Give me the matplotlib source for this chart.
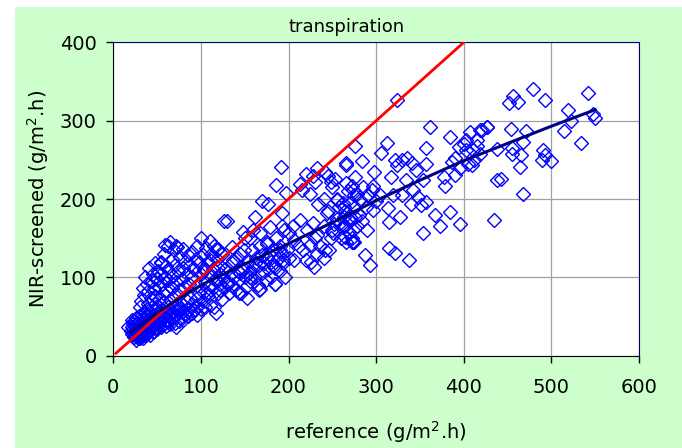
import matplotlib
matplotlib.use("Agg")
import matplotlib.pyplot as plt
from matplotlib.patches import Rectangle

# blue diamonds: (reference, NIR-screened)
core_pts = [
    (20, 32), (21, 36), (22, 30), (22, 40), (23, 34), (24, 28), (24, 44), (25, 38), (25, 31), (26, 25),
    (26, 48), (27, 35), (27, 42), (28, 30), (28, 22), (29, 38), (29, 50), (30, 27), (30, 33), (30, 45),
    (31, 40), (32, 24), (32, 36), (33, 52), (33, 30), (34, 42), (34, 28), (35, 47), (35, 35), (36, 55),
    (36, 26), (37, 40), (37, 32), (38, 60), (38, 45), (39, 36), (40, 30), (40, 50), (41, 42), (42, 56),
    (42, 34), (43, 38), (44, 62), (44, 46), (45, 30), (45, 52), (46, 40), (47, 58), (48, 35), (48, 66),
    (49, 48), (50, 42), (50, 55), (51, 38), (52, 62), (53, 47), (54, 52), (55, 44), (56, 58), (57, 40),
    (58, 68), (59, 50), (60, 46), (61, 56), (62, 62), (63, 52), (64, 44), (65, 60), (66, 70), (67, 55),
    (68, 48), (70, 62), (71, 58), (72, 52), (73, 66), (75, 60), (76, 48), (78, 56), (80, 64), (82, 52),
    (84, 70), (86, 60), (88, 74), (90, 66), (92, 58), (94, 72), (96, 62), (98, 80),
    (24, 24), (26, 20), (28, 26), (30, 22), (34, 22), (38, 28), (42, 26), (46, 32), (50, 34), (55, 36),
    (60, 38), (65, 40), (70, 42), (72, 37), (75, 44), (80, 46), (85, 50), (90, 55), (95, 52), (100, 60),
    (105, 62), (110, 65), (21, 45), (17, 37), (21, 28), (29, 32), (37, 41), (44, 50), (52, 54), (63, 45),
]
upper_pts = [
    (30, 62), (32, 70), (34, 86), (35, 78), (36, 100), (38, 92), (40, 66), (40, 82), (41, 112), (43, 74),
    (44, 95), (45, 104), (46, 86), (48, 118), (48, 76), (50, 98), (51, 108), (52, 88), (52, 72), (54, 120),
    (55, 104), (56, 92), (57, 80), (58, 130), (59, 100), (60, 114), (60, 84), (62, 96), (63, 140), (64, 108),
    (65, 145), (66, 88), (67, 124), (68, 102), (69, 135), (70, 78), (70, 116), (72, 94), (72, 140), (74, 108),
    (75, 84), (76, 126), (78, 98), (79, 112), (80, 136), (81, 88), (82, 120), (84, 104), (85, 128), (86, 92),
    (88, 116), (90, 100), (90, 132), (92, 110), (94, 124), (95, 90), (96, 140), (98, 118), (100, 104), (100, 150),
    (102, 128), (104, 112), (105, 94), (106, 138), (108, 120), (110, 146), (110, 102), (112, 130), (114, 110), (115, 140),
    (116, 98), (118, 124), (120, 136), (120, 112), (122, 104), (124, 130), (59, 141), (73, 139), (55, 118), (67, 86),
]
mid_pts = [
    (102, 70), (105, 82), (108, 76), (110, 90), (112, 84), (115, 62), (117, 54), (118, 96), (120, 80), (122, 92),
    (124, 72), (125, 100), (126, 86), (128, 110), (130, 94), (130, 172), (132, 80), (134, 104), (135, 118), (136, 90),
    (138, 100), (140, 84), (140, 124), (142, 108), (144, 96), (145, 130), (146, 80), (148, 112), (150, 100), (150, 150),
    (152, 88), (153, 74), (154, 120), (155, 106), (156, 95), (158, 135), (160, 112), (160, 160), (162, 100), (163, 125),
    (165, 90), (166, 116), (167, 85), (168, 140), (170, 106), (170, 128), (172, 118), (174, 96), (175, 145), (176, 110),
    (178, 130), (180, 120), (180, 100), (182, 136), (184, 112), (185, 91), (186, 150), (188, 124), (190, 108), (190, 140),
    (192, 130), (194, 118), (195, 160), (196, 100), (198, 135), (200, 125),
    (191, 241), (126, 172), (186, 218), (197, 208), (177, 194), (192, 182), (162, 177), (170, 197), (213, 219), (215, 211),
    (220, 232), (228, 229), (225, 207), (248, 222), (242, 234), (253, 226), (266, 246), (234, 194), (244, 182), (213, 173),
    (221, 160), (232, 154), (246, 135), (266, 145), (274, 160), (274, 145), (270, 177), (278, 207), (272, 216), (193, 165),
    (148, 158), (135, 139), (149, 135), (156, 150), (185, 92), (166, 84), (143, 80), (118, 135), (110, 122), (103, 109),
    (107, 80), (122, 84), (175, 126), (183, 114), (206, 122), (217, 135), (225, 141), (206, 148), (190, 135), (175, 143),
    (162, 118), (145, 105), (130, 92), (137, 122), (122, 114), (156, 101), (194, 122), (168, 156), (179, 164), (201, 156),
    (228, 169), (240, 165), (251, 156), (259, 169), (263, 190), (255, 199),
    (229, 113), (232, 130), (226, 120), (236, 140), (230, 150), (240, 125), (220, 122), (242, 135), (212, 140), (205, 165),
]
high_pts = [
    (250, 160), (255, 175), (260, 150), (262, 165), (265, 185), (268, 158), (270, 172), (272, 150), (275, 145), (278, 165),
    (280, 180), (284, 172), (288, 190), (290, 160), (262, 195), (258, 190), (252, 168), (245, 185), (248, 150), (255, 200),
    (268, 210), (275, 205), (285, 215), (290, 205), (295, 212), (250, 215), (240, 200), (245, 230), (232, 240), (230, 222),
    (324, 326), (362, 292), (312, 272), (276, 268), (306, 259), (357, 265), (329, 250), (335, 253), (324, 243), (341, 246),
    (357, 245), (384, 279), (407, 286), (415, 275), (426, 292), (419, 288), (394, 267), (402, 263), (390, 252), (409, 243),
    (377, 228), (379, 216), (390, 231), (438, 224), (434, 173), (396, 168), (384, 184), (373, 165), (367, 180), (353, 157),
    (327, 177), (315, 171), (313, 188), (296, 186), (287, 128), (293, 116), (315, 137), (321, 131), (338, 122), (272, 145),
    (265, 152), (264, 165), (284, 249), (266, 243), (298, 235), (296, 216), (276, 228), (274, 211), (266, 220), (282, 199),
    (270, 195), (263, 177), (276, 177), (276, 190), (317, 228), (319, 205), (329, 205), (334, 224), (342, 211), (348, 202),
    (340, 194), (351, 192), (357, 196), (353, 224), (346, 237), (321, 250), (304, 205), (300, 198),
]
far_pts = [
    (479, 341), (456, 332), (452, 322), (462, 324), (493, 326), (542, 336), (519, 314), (522, 300), (514, 287), (550, 303),
    (548, 309), (534, 272), (426, 292), (421, 288), (454, 290), (471, 287), (468, 273), (455, 265), (438, 264), (455, 258),
    (465, 256), (464, 241), (491, 263), (489, 250), (499, 248), (493, 256), (442, 226), (468, 207), (419, 258), (410, 262),
    (403, 275), (412, 250), (400, 270), (405, 245), (415, 268), (396, 240), (387, 247),
]

# dark trend line through the scatter
trend_x = [20, 50, 100, 150, 200, 250, 300, 350, 400, 450, 500, 550]
trend_y = [30, 55, 90, 117, 143, 170, 198, 224, 249, 271, 293, 314]

# 1:1 line
one_x = [3, 400]
one_y = [3, 400]

all_pts = core_pts + upper_pts + mid_pts + high_pts + far_pts
ref = [p[0] for p in all_pts]
nir = [p[1] for p in all_pts]

plt.rcParams['font.family'] = ['DejaVu Sans']

fig = plt.figure(figsize=(6.82, 4.48), dpi=100)
fig.patch.set_facecolor('white')
fig.patches.append(Rectangle((15 / 682, 0), 1, 1 - 7 / 448, transform=fig.transFigure,
                             facecolor='#CCFFCC', edgecolor='none', zorder=-10))

ax = fig.add_axes([113.3 / 682, 1 - 355.6 / 448, (639 - 113.3) / 682, (355.6 - 42.4) / 448])
ax.set_facecolor('white')

ax.plot(ref, nir, linestyle='none', marker='D', markersize=7.2,
        markerfacecolor='none', markeredgecolor='#0000FF', markeredgewidth=1.0, zorder=3)
ax.plot(one_x, one_y, color='#FF0000', linewidth=2.0, zorder=4)
ax.plot(trend_x, trend_y, color='#000080', linewidth=2.2, zorder=5)

ax.set_xlim(0, 600)
ax.set_ylim(0, 400)
ax.set_xticks(range(0, 601, 100))
ax.set_yticks(range(0, 401, 100))
ax.grid(True, color='#A0A0A0', linewidth=0.9)
ax.set_axisbelow(True)
ax.tick_params(axis='x', direction='out', length=5, width=1, labelsize=14, pad=11)
ax.tick_params(axis='y', direction='out', length=5, width=1, labelsize=14, pad=7)

for side in ['left', 'bottom']:
    ax.spines[side].set_color('black')
for side in ['top', 'right']:
    ax.spines[side].set_color('#000080')

fig.text(347 / 682, 1 - 27 / 448, 'transpiration', ha='center', va='center', fontsize=13)
fig.text(376 / 682, 1 - 432 / 448, 'reference (g/m$^2$.h)', ha='center', va='center', fontsize=14)
fig.text(38 / 682, 1 - 199 / 448, 'NIR-screened (g/m$^2$.h)', ha='center', va='center',
         rotation=90, fontsize=14)

fig.savefig('out.png', dpi=100)
